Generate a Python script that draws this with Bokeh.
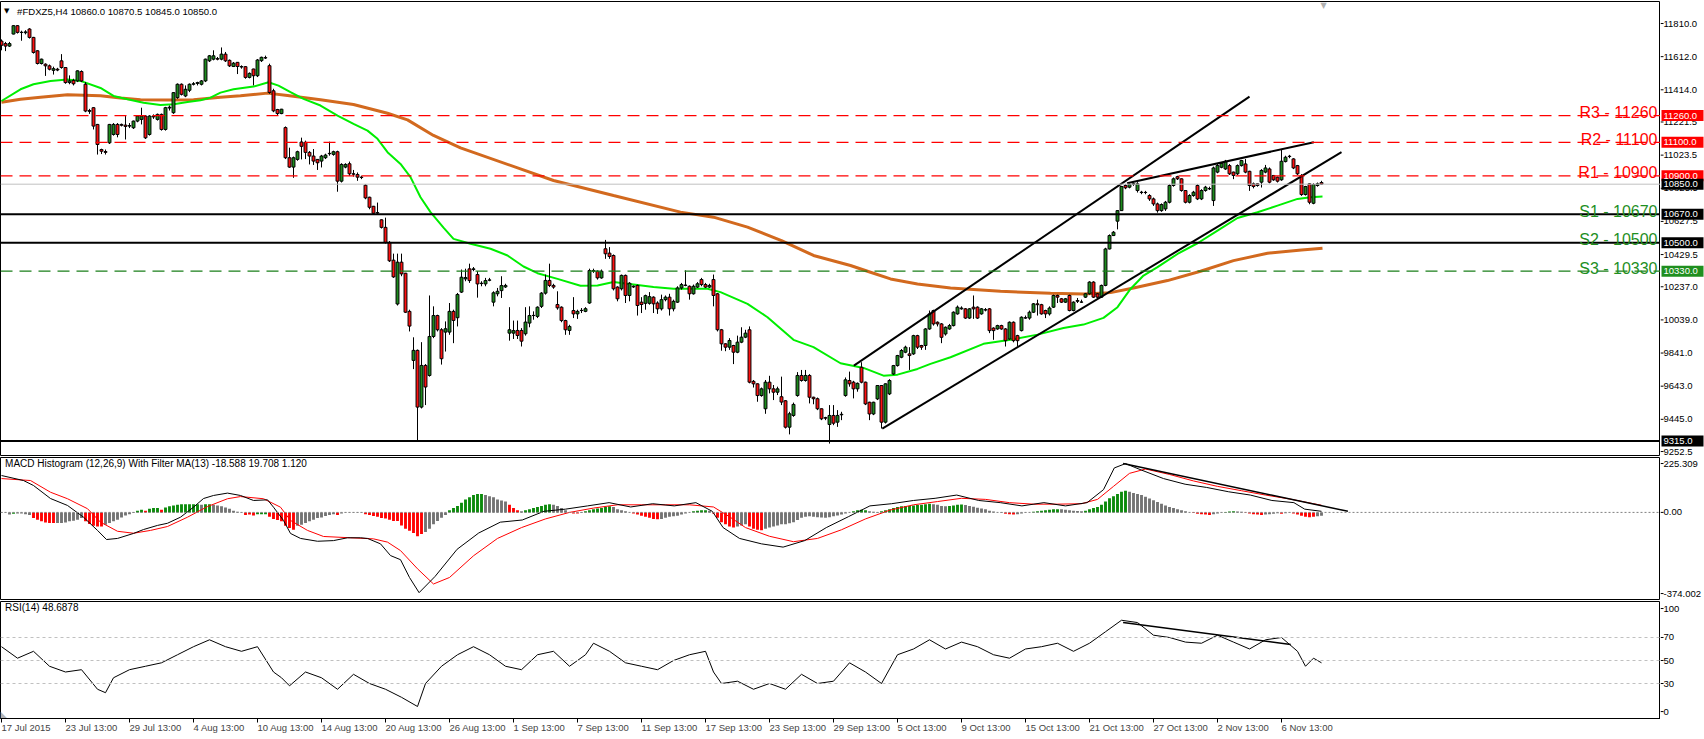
from bokeh.plotting import figure
from bokeh.layouts import column, row
from bokeh.models import (Range1d, FixedTicker, NumeralTickFormatter, Span, Label,
                          ColumnDataSource, LinearAxis)
from bokeh.core.properties import value
from bokeh.embed import file_html
from bokeh.resources import INLINE

# ---------------- data ----------------
bar_open = [11705,11690,11675,11747,11797,11757,11755,11777,11727,11647,11571,11567,11557,11530,11537,11587,11547,11457,11470,11467,
11523,11447,11290,11307,11207,11057,11045,11097,11147,11207,11207,11203,11197,11187,11227,11237,11257,11147,11252,11237,
11267,11177,11305,11277,11367,11447,11377,11411,11447,11452,11447,11467,11587,11597,11600,11597,11627,11590,11553,11578,
11553,11552,11488,11538,11498,11588,11606,11558,11408,11296,11272,11188,11008,10952,10998,11102,11100,11040,11018,10998,
10988,11008,11032,11028,11044,10868,10952,10972,10912,10908,10892,10844,10772,10718,10680,10637,10592,10502,10396,10134,
10384,10318,10090,9797,9857,9518,9767,9707,9940,10065,9980,9966,9966,10090,10052,10205,10284,10344,10340,10310,
10258,10254,10276,10145,10195,10214,10236,9960,9960,9976,9976,9956,10020,10065,10060,10120,10199,10275,10245,10131,
10115,10035,9976,10095,10075,10095,10090,10140,10334,10330,10290,10464,10438,10424,10235,10225,10305,10185,10240,10245,
10145,10138,10138,10175,10140,10105,10160,10175,10105,10145,10230,10247,10240,10195,10235,10280,10250,10235,10280,10195,
9980,9896,9876,9886,9846,9906,9936,9980,9672,9657,9587,9508,9667,9627,9607,9580,9556,9398,9468,9587,
9707,9677,9707,9577,9568,9508,9455,9414,9468,9428,9472,9587,9677,9667,9627,9756,9667,9547,9477,9567,
9647,9428,9597,9716,9766,9816,9846,9836,9836,9945,9886,9886,9985,10095,10025,10015,9955,9985,10005,10075,
10105,10105,10050,10115,10115,10075,10098,10105,9990,9985,10005,9985,9925,10025,9945,9975,10050,10050,10085,10135,
10130,10095,10075,10115,10185,10165,10145,10185,10095,10150,10145,10175,10195,10265,10195,10175,10245,10463,10543,10629,
10692,10842,10832,10850,10812,10802,10801,10782,10762,10732,10692,10702,10742,10842,10895,10882,10812,10742,10782,10842,
10762,10812,10822,10752,10922,10951,10941,10961,10922,10912,10961,10971,10927,10852,10852,10862,10922,10941,10902,10892,
10876,10985,11015,11001,10961,10902,10788,10852,10736,10842,10860]
bar_high = [11715,11700,11700,11800,11800,11767,11770,11782,11730,11650,11600,11572,11565,11552,11545,11627,11550,11500,11480,11530,
11530,11460,11300,11310,11210,11062,11057,11210,11215,11215,11212,11257,11215,11230,11262,11307,11262,11262,11267,11272,
11272,11312,11320,11400,11452,11452,11440,11452,11460,11462,11472,11600,11622,11650,11610,11667,11640,11595,11580,11580,
11560,11555,11518,11540,11598,11612,11618,11570,11420,11300,11300,11195,11068,11015,11050,11128,11110,11048,11060,11000,
11025,11032,11104,11050,11050,10975,10975,10985,10935,10920,10900,10850,10775,10720,10740,10640,10650,10510,10435,10435,
10435,10320,10100,9935,9862,9906,9775,10185,10120,10070,9990,10030,10140,10100,10200,10340,10345,10375,10355,10330,
10270,10290,10290,10210,10230,10300,10255,10115,10035,10035,9990,10115,10120,10090,10120,10205,10310,10375,10255,10210,
10120,10040,10010,10175,10100,10110,10115,10345,10345,10335,10340,10517,10474,10430,10240,10310,10310,10265,10245,10250,
10175,10190,10205,10180,10150,10190,10185,10195,10160,10240,10260,10335,10245,10250,10265,10290,10260,10255,10310,10200,
9985,9900,9930,9890,9945,9995,9980,10000,9680,9660,9635,9680,9705,9650,9640,9700,9560,9490,9545,9727,
9740,9740,9715,9580,9575,9510,9460,9530,9530,9500,9490,9695,9730,9675,9665,9786,9670,9550,9550,9650,
9650,9660,9685,9770,9830,9865,9885,9876,9950,9950,9890,9990,10095,10100,10030,10020,10000,10015,10090,10125,
10120,10110,10110,10185,10120,10110,10110,10110,9995,10010,10010,9990,10030,10030,9950,10060,10065,10095,10140,10160,
10135,10100,10120,10190,10190,10170,10170,10190,10150,10170,10160,10200,10270,10270,10200,10250,10470,10550,10570,10695,
10840,10850,10860,10860,10862,10810,10810,10790,10770,10740,10735,10750,10850,10890,10900,10885,10815,10790,10810,10850,
10820,10840,10835,10955,10970,10980,10995,10970,10925,10968,10995,11000,10930,10860,10855,10940,10965,10950,10905,10895,
11055,11020,11025,11005,10965,10910,10840,10855,10855,10860,10870]
bar_low = [11650,11645,11670,11745,11750,11707,11745,11720,11630,11565,11565,11497,11530,11505,11525,11540,11450,11447,11440,11460,
11460,11280,11270,11177,11027,11030,11027,11090,11140,11130,11195,11117,11185,11180,11220,11207,11120,11140,11240,11230,
11170,11170,11290,11270,11360,11380,11370,11400,11440,11440,11440,11460,11580,11590,11590,11590,11580,11550,11550,11508,
11540,11480,11482,11440,11490,11580,11598,11390,11280,11262,11268,11000,10948,10888,10990,10998,11000,10968,10965,10935,
10950,11000,11020,11020,10805,10860,10945,10900,10895,10870,10880,10760,10700,10670,10672,10585,10495,10385,10290,10125,
10300,10080,9970,9745,9318,9510,9530,9700,9930,9970,9772,9850,9950,9900,10000,10200,10270,10260,10330,10172,
10240,10240,10270,10120,10180,10170,10230,9915,9925,9925,9880,9945,9995,10040,10050,10110,10190,10235,10225,10100,
10025,9950,9950,10050,10045,10080,10085,10135,10320,10280,10285,10404,10404,10215,10150,10215,10140,10150,10230,10065,
10080,10100,10130,10080,10075,10095,10150,10065,10090,10140,10220,10240,10160,10190,10230,10240,10230,10230,10120,9970,
9855,9852,9860,9775,9840,9900,9930,9660,9635,9550,9580,9478,9600,9560,9590,9530,9390,9355,9460,9580,
9670,9670,9540,9535,9500,9440,9440,9300,9410,9400,9440,9580,9640,9570,9610,9660,9530,9440,9470,9560,
9390,9420,9590,9710,9760,9810,9840,9740,9830,9865,9860,9860,9980,10005,10000,9900,9945,9980,10000,10070,
10100,10045,10045,10045,10045,10070,10090,9960,9920,9980,9980,9880,9920,9905,9880,9970,10045,10040,10080,10065,
10070,10050,10065,10110,10140,10140,10140,10090,10090,10140,10140,10170,10190,10170,10170,10170,10240,10460,10540,10580,
10690,10820,10825,10840,10800,10790,10790,10750,10720,10680,10685,10690,10735,10835,10875,10805,10735,10735,10775,10755,
10755,10805,10815,10720,10915,10945,10935,10905,10880,10905,10955,10915,10810,10825,10835,10830,10915,10855,10870,10860,
10870,10980,11005,10940,10905,10780,10782,10730,10730,10835,10845]
bar_close = [11680,11675,11690,11797,11757,11757,11760,11727,11637,11571,11597,11557,11537,11540,11532,11547,11457,11467,11450,11527,
11467,11287,11285,11197,11087,11047,11040,11207,11207,11147,11202,11195,11200,11227,11257,11257,11127,11257,11257,11267,
11177,11307,11310,11397,11447,11387,11417,11447,11450,11457,11467,11597,11617,11617,11597,11627,11587,11557,11573,11553,
11550,11488,11512,11498,11592,11608,11604,11398,11288,11272,11298,11008,10952,11008,11044,11076,11040,11018,10988,10978,
11018,11024,11034,11044,10868,10968,10968,10912,10910,10892,10890,10768,10712,10676,10678,10592,10502,10392,10296,10384,
10314,10085,10002,9857,9518,9767,9638,9940,10065,9980,9807,9986,10090,10036,10191,10294,10292,10274,10344,10254,
10256,10274,10278,10201,10210,10244,10245,9980,9975,9946,9912,10026,10065,10066,10115,10199,10275,10245,10235,10111,
10035,9980,10000,10075,10090,10096,10106,10334,10330,10290,10330,10434,10418,10225,10165,10305,10185,10258,10236,10125,
10131,10184,10178,10135,10105,10160,10175,10105,10150,10230,10250,10245,10195,10240,10255,10250,10235,10245,10185,9980,
9896,9876,9916,9846,9906,9936,9960,9667,9657,9587,9627,9667,9627,9607,9627,9548,9398,9478,9534,9707,
9677,9707,9577,9568,9508,9448,9452,9468,9422,9468,9475,9681,9657,9627,9660,9667,9537,9477,9547,9647,
9428,9657,9677,9766,9826,9856,9876,9826,9945,9876,9876,9985,10075,10015,10015,9935,9995,10005,10085,10115,
10110,10050,10105,10105,10050,10105,10100,9975,9975,10005,9985,9915,10025,9915,9915,10055,10052,10085,10135,10130,
10075,10075,10110,10185,10175,10145,10165,10095,10145,10155,10146,10195,10265,10175,10175,10245,10463,10543,10563,10692,
10836,10828,10848,10852,10852,10800,10800,10762,10732,10692,10728,10742,10842,10882,10882,10812,10742,10782,10802,10762,
10812,10832,10824,10947,10962,10975,10987,10912,10902,10961,10991,10922,10842,10836,10842,10932,10947,10862,10876,10868,
10987,11011,11017,10947,10912,10788,10836,10742,10848,10852,10850]

# moving averages read at sample bars (bar index, price)
ma_fast_idx = [0,4.75,8,12.25,16.5,19.75,24.75,28,31.5,35.5,39.75,43,46.5,49.75,52.25,54.75,58,63,66.75,69.25,
  72.25,75.5,79.75,84,88,91.5,94,96.5,99.75,102.25,104.75,107.25,110.5,113,117.25,122.25,126.5,130.5,134,139,
  144.75,149,153,158,163,168,176.5,179.75,186.5,191.5,198,203,209.75,215.5,220.5,224,229,232.25,237.25,245.5,
  252.25,259,265.5,270.5,275.5,279,282.25,285.5,289,294,299,304,309,314,319,324,327.25,330.25]
ma_fast_val = [11347,11417,11447,11467,11475,11467,11425,11377,11357,11337,11323,11327,11341,11351,11367,11397,11417,11433,11459,11439,
  11400,11360,11320,11260,11210,11170,11121,11041,10971,10892,10772,10683,10590,10523,10494,10464,10424,10358,10318,10284,
  10243,10245,10265,10251,10235,10225,10225,10205,10135,10055,9920,9876,9780,9752,9706,9712,9746,9776,9816,9896,
  9920,9951,9991,10011,10051,10115,10224,10304,10354,10433,10497,10573,10648,10682,10722,10762,10772,10776]
ma_slow_idx = [0,4.75,9.75,16.5,24.75,29.75,34.75,41.5,48,54.75,59.75,66.5,71.5,79.75,88,96.5,101.5,108,114.75,138,153,169.75,178,186.5,195,203,
  212.25,217.25,222.25,229,237.25,249.75,262.25,270.5,277.25,283,291.5,299.75,308,316.5,325,330.25]
ma_slow_val = [11340,11357,11369,11385,11379,11365,11355,11353,11355,11369,11379,11394,11380,11354,11326,11274,11234,11141,11067,10872,10782,10683,10653,10593,10513,10424,
  10364,10324,10284,10254,10230,10210,10198,10194,10202,10230,10274,10330,10393,10437,10457,10467]

# support / resistance levels
res_levels = [11260, 11100, 10900]
res_names = ["R3 - 11260", "R2 - 11100", "R1 - 10900"]
sup_levels = [10670, 10500]
sup_names = ["S1 - 10670", "S2 - 10500"]
s3_level = 10330
s3_name = "S3 - 10330"
low_level = 9315
last_price = 10850
box_levels = [11260, 11100, 10900, 10850, 10670, 10500, 10330, 9315]
box_colors = ["#ff0000", "#ff0000", "#ff0000", "black", "black", "black", "#1f8f1f", "black"]

# trend lines drawn on the chart (bar index, price)
chan_up_x = [213.1, 312.0]
chan_up_y = [9766, 11373]
chan_lo_x = [220.2, 335.0]
chan_lo_y = [9390, 11041]
wedge_x = [281.4, 328.1]
wedge_y = [10856, 11101]

price_ticks = [11810.0, 11612.0, 11414.0, 11221.5, 11023.5, 10825.5, 10627.5, 10429.5, 10237.0,
               10039.0, 9841.0, 9643.0, 9445.0, 9252.5]

# MACD histogram per bar, colour code g=green r=red k=grey
hist_val = [-3,-2,-10,-6,-5,-5,-8,-12,-26,-34,-41,-46,-49,-49,-49,-49,-46,-41,-38,-34,
-26,-41,-54,-61,-65,-65,-57,-49,-41,-34,-23,-14,-8,-3,8,12,8,17,20,20,
12,23,28,32,35,38,38,38,38,38,35,38,38,35,32,28,23,17,8,3,
-2,-12,-10,-14,-8,-8,-8,-20,-30,-35,-41,-61,-72,-80,-61,-57,-49,-41,-34,-26,
-23,-17,-12,-8,-12,-5,-2,-2,-2,-2,-2,-8,-12,-17,-20,-26,-28,-34,-40,-40,
-60,-75,-85,-95,-110,-100,-90,-75,-55,-40,-25,-12,10,20,30,45,60,70,80,85,
85,80,75,70,60,55,50,35,20,10,5,10,15,20,25,30,35,38,35,30,
20,10,0,-5,-5,-3,5,10,15,18,20,25,28,25,15,10,5,0,-5,-10,
-15,-20,-25,-30,-32,-30,-25,-20,-18,-15,-10,-5,0,5,8,10,10,8,-5,-25,
-45,-55,-65,-70,-65,-60,-55,-65,-75,-80,-82,-75,-70,-65,-60,-55,-55,-50,-45,-35,
-25,-20,-18,-20,-22,-24,-25,-22,-18,-14,-10,-5,0,5,10,12,10,5,3,2,
5,10,15,20,25,28,30,30,32,34,35,38,40,38,35,30,28,30,32,35,
36,34,30,26,22,18,14,8,4,0,-3,-6,-8,-10,-8,-5,-2,0,3,5,
8,10,12,14,15,14,12,10,8,6,5,8,15,20,25,35,50,65,75,85,
95,100,95,90,85,80,72,64,56,48,40,32,25,20,15,10,5,0,-3,-6,
-8,-10,-12,-8,-5,-2,2,4,5,4,3,-2,-5,-8,-10,-12,-10,-8,-6,-4,
-6,-4,-2,-5,-10,-15,-20,-22,-20,-18,-16]
hist_col = ("kkkgkkkkrr" "rrrrkkkkkk" "krrrrrkkkk" "kkkkggrggg" "rggggggggg" "kggkkkkkkk"
            "krrrgggrrr" "rrrrkkkkkk" "kkkkrkkkkk" "krrrrrrrrr" "rrrrrrkkkk" "kkgggggggg"
            "gkkkkkkrrr" "kgggggggkk" "kkkrrkgggg" "gggkkkkkrr" "rrrrrkkkkk" "kkkggggkrr"
            "rrrrkkkrrr" "rkkkkkkkkk" "kkkkkkkkkk" "kkgggggkkk" "gggggggggg" "gggkkkkggg"
            "gkkkkkkkkk" "krrrkkkkgg" "gggggkkkkk" "kggggggggg" "ggkkkkkkkk" "kkkkkkkkrr"
            "rrrkkkgggk" "krrrrrkkkk" "rkkrrrrrrk" "k")

macd_idx = [0,5.5,8,12.25,16.5,20.5,24,26.25,29,33,35.5,39,41.5,44.75,48,50.5,53,56.5,59.75,63,66.5,68,70.5,72.25,74.75,79,83,86.5,89.75,91.5,94.75,97.25,99.75,
  102,104.4,108.4,113.9,119.3,124.7,130.2,135.6,141,146.5,151.9,157.3,162.8,168.2,173.6,177.7,180.4,184.5,190,195.4,200.8,206.2,211.7,217.1,222.5,228,233.4,238.8,
  244.3,249.7,255.1,260.6,266,271.4,275.5,278.2,281,285,290.5,295.9,301.3,306.8,312.2,317.6,323.1,325.8,330]
macd_val = [170,147,124,64,32,-22,-83,-125,-120,-97,-79,-60,-50,-22,24,64,78,89,78,55,58,24,-37,-97,-120,-133,-130,-117,-117,-120,-145,-199,-218,
  -300,-370,-295,-170,-95,-45,-35,5,15,30,45,25,40,30,45,5,-70,-120,-145,-160,-130,-70,-20,30,40,55,65,80,
  55,45,30,45,30,45,105,205,225,195,156,130,115,95,80,55,45,15,5]
signal_idx = [0,7.25,12.25,16.5,21.5,24.75,29,33,37.25,41.5,46.5,51.5,56.5,59.75,65.5,69.75,72.25,76.5,80.5,87.25,93,96.5,99.75,104,108,112,118,124,130,136,142,148,
  154,160,166,172,178,182,186,192,198,204,210,216,222,228,234,240,246,252,258,264,270,274,278,282,286,292,298,304,310,316,322,328,330]
signal_val = [156,147,93,63,17,-45,-87,-96,-83,-65,-22,27,63,73,63,24,-37,-83,-111,-117,-122,-137,-176,-260,-330,-300,-200,-120,-70,-30,0,20,
  35,35,35,35,25,-20,-70,-110,-135,-120,-80,-30,10,35,50,65,60,45,38,38,40,60,120,180,200,175,145,120,100,80,62,40,33]
macd_tl_x = [280.4, 336.6]
macd_tl_y = [225, 5]
macd_ticks = [225.309, 0, -374.002]
macd_tick_text = ["225.309", "0.00", "-374.002"]

rsi_idx = [0,4,8,12,16,20,24,26,28,32,36,40,44,48,52,56,60,64,68,70,72,76,80,84,88,92,96,100,104,106,110,114,118,122,126,130,134,138,142,146,148,152,156,
  160,164,168,172,176,178,180,184,188,192,196,200,204,208,212,216,220,224,228,232,236,240,244,248,252,256,260,264,268,272,276,280,284,288,292,296,300,
  304,308,312,316,320,324,326,328,330]
rsi_val = [62,52,58,45,40,42,25,22,35,42,45,48,55,62,68,62,58,62,40,35,28,40,35,25,38,30,25,18,10,30,45,55,62,55,45,42,55,58,45,55,65,58,48,
  45,42,50,55,58,40,30,32,25,30,25,38,30,32,48,40,30,55,60,68,60,66,62,55,52,60,62,65,58,65,75,85,83,72,70,66,65,
  72,66,60,68,70,58,45,52,48]
rsi_tl_x = [280.4, 322.3]
rsi_tl_y = [83, 64]
rsi_ticks = [95.2, 70, 50, 30, 5.6]
rsi_tick_text = ["100", "70", "50", "30", "0"]

date_ticks = list(range(0, 321, 16))
date_labels = ["17 Jul 2015", "23 Jul 13:00", "29 Jul 13:00", "4 Aug 13:00", "10 Aug 13:00", "14 Aug 13:00",
               "20 Aug 13:00", "26 Aug 13:00", "1 Sep 13:00", "7 Sep 13:00", "11 Sep 13:00", "17 Sep 13:00",
               "23 Sep 13:00", "29 Sep 13:00", "5 Oct 13:00", "9 Oct 13:00", "15 Oct 13:00", "21 Oct 13:00",
               "27 Oct 13:00", "2 Nov 13:00", "6 Nov 13:00"]

# ---------------- styling ----------------
FONT = "Liberation Sans"
GREEN_BODY = "#1c8c1c"
RED_BODY = "#ff1010"
FRAME_W = 1660
STRIP_W = 44
X_START = -0.25
X_END = X_START + FRAME_W / 4.0
x_range = Range1d(X_START, X_END)


def main_fig(frame_h, yr, top, bottom, xaxis=False):
    p = figure(frame_width=FRAME_W, frame_height=frame_h, x_range=x_range, y_range=yr,
               y_axis_location=None, x_axis_location="below" if xaxis else None,
               toolbar_location=None, output_backend="svg",
               min_border_left=0, min_border_right=0, min_border_top=top,
               min_border_bottom=bottom)
    p.grid.visible = False
    p.outline_line_color = "black"
    p.outline_line_width = 1
    p.background_fill_color = "white"
    p.border_fill_color = "white"
    return p


def strip_fig(frame_h, yr, ticks, top, bottom, overrides=None, fmt=None):
    s = figure(frame_width=STRIP_W, frame_height=frame_h, x_range=Range1d(0, STRIP_W),
               y_range=yr, y_axis_location=None, x_axis_location=None,
               toolbar_location=None, output_backend="svg",
               min_border_left=0, min_border_right=0, min_border_top=top,
               min_border_bottom=bottom)
    s.grid.visible = False
    s.outline_line_color = None
    s.background_fill_color = "white"
    s.border_fill_color = "white"
    # small tick marks next to the panel edge
    s.segment(x0=0, x1=3, y0=ticks, y1=ticks, line_color="black", line_width=1)
    ra = LinearAxis(ticker=FixedTicker(ticks=ticks), axis_line_color=None,
                    major_tick_line_color=None, minor_tick_line_color=None,
                    major_tick_in=0, major_tick_out=0, major_label_standoff=-41,
                    major_label_text_font=FONT, major_label_text_font_size="9.5px",
                    major_label_text_color="black")
    if fmt is not None:
        ra.formatter = fmt
    if overrides is not None:
        ra.major_label_overrides = overrides
    s.add_layout(ra, "right")
    return s


# ---------------- main price panel ----------------
yr1 = Range1d(9228.8, 11941.5)
p1 = main_fig(454, yr1, 1, 1)
s1 = strip_fig(454, yr1, price_ticks, 1, 1, fmt=NumeralTickFormatter(format="0.0"))
PX = (11941.5 - 9228.8) / 454.0

n = len(bar_close)
idx = list(range(n))
body_top = [max(o, c) for o, c in zip(bar_open, bar_close)]
body_bot = [min(o, c) for o, c in zip(bar_open, bar_close)]
body_col = [GREEN_BODY if c > o else RED_BODY for o, c in zip(bar_open, bar_close)]
src = ColumnDataSource(dict(x=idx, o=bar_open, h=bar_high, l=bar_low, c=bar_close,
                            top=body_top, bot=body_bot, col=body_col))

for lv in res_levels:
    p1.add_layout(Span(location=lv, dimension="width", line_color="#ff0000",
                       line_width=1.3, line_dash="12 7"))
for lv in sup_levels:
    p1.add_layout(Span(location=lv, dimension="width", line_color="black", line_width=2))
p1.add_layout(Span(location=s3_level, dimension="width", line_color="#1a7f1a",
                   line_width=1.3, line_dash="12 7"))
p1.add_layout(Span(location=low_level, dimension="width", line_color="black", line_width=2))
p1.add_layout(Span(location=last_price, dimension="width", line_color="#c0c0c0", line_width=1))

p1.line(ma_slow_idx, ma_slow_val, line_color="#d2691e", line_width=3)
p1.line(ma_fast_idx, ma_fast_val, line_color="#00ee00", line_width=2)

p1.segment(x0="x", y0="l", x1="x", y1="h", source=src, line_color="black", line_width=1)
p1.vbar(x="x", top="top", bottom="bot", width=0.72, source=src, fill_color="col",
        line_color="black", line_width=1)

for tx, ty in ((chan_up_x, chan_up_y), (chan_lo_x, chan_lo_y), (wedge_x, wedge_y)):
    p1.line(tx, ty, line_color="black", line_width=2)

for lv, nm in zip(res_levels, res_names):
    p1.add_layout(Label(x=X_END - 0.75, y=lv + 3 * PX, text=nm, text_align="right",
                        text_baseline="alphabetic", text_color="#ff0000",
                        text_font=FONT, text_font_size="16px"))
for lv, nm in zip(sup_levels + [s3_level], sup_names + [s3_name]):
    p1.add_layout(Label(x=X_END - 0.75, y=lv + 3 * PX, text=nm, text_align="right",
                        text_baseline="alphabetic", text_color="#1f8f1f",
                        text_font=FONT, text_font_size="16px"))

p1.add_layout(Label(x=0.6, y=11941.5 - 9.5 * PX, text="\u25BC", text_align="left",
                    text_baseline="middle", text_color="black", text_font="DejaVu Sans",
                    text_font_size="7px"))
p1.add_layout(Label(x=3.9, y=11941.5 - 9.5 * PX,
                    text="#FDXZ5,H4  10860.0 10870.5 10845.0 10850.0", text_align="left",
                    text_baseline="middle", text_color="black", text_font=FONT,
                    text_font_size="9.6px"))
p1.add_layout(Label(x=330.5, y=11941.5 - 3.5 * PX, text="\u25BC", text_align="center",
                    text_baseline="middle", text_color="#b0b0b0", text_font="DejaVu Sans",
                    text_font_size="8px"))

# price boxes on the axis strip
bsrc = ColumnDataSource(dict(y=box_levels, b=[v - 5.5 * PX for v in box_levels],
                             t=[v + 5.5 * PX for v in box_levels], col=box_colors,
                             txt=["%.1f" % v for v in box_levels]))
s1.quad(left=1, right=STRIP_W - 1, bottom="b", top="t", source=bsrc, fill_color="col",
        line_color=None, level="overlay")
s1.text(x=3, y="y", text="txt", source=bsrc, text_color="white", text_align="left",
        text_baseline="middle", text_font=value(FONT), text_font_size=value("9.5px"),
        level="overlay")

# ---------------- MACD panel ----------------
yr2 = Range1d(-401.5, 253.1)
p2 = main_fig(142, yr2, 1, 1)
s2 = strip_fig(142, yr2, macd_ticks, 1, 1,
               overrides={t: s for t, s in zip(macd_ticks, macd_tick_text)})
p2.add_layout(Span(location=0, dimension="width", line_color="#808080", line_width=1,
                   line_dash="2 2"))
cmap = {"g": "#0a8a0a", "r": "#ff0000", "k": "#737373"}
hsrc = ColumnDataSource(dict(x=idx, top=hist_val, col=[cmap[c] for c in hist_col[:n]]))
p2.vbar(x="x", top="top", bottom=0, width=0.72, source=hsrc, fill_color="col", line_color=None)
p2.line(signal_idx, signal_val, line_color="#ff0000", line_width=1)
p2.line(macd_idx, macd_val, line_color="black", line_width=1)
p2.line(macd_tl_x, macd_tl_y, line_color="black", line_width=1.5)
p2.add_layout(Label(x=0.9, y=(511.9 - 463) * 4.61,
                    text="MACD Histogram (12,26,9) With Filter MA(13) -18.588 19.708 1.120",
                    text_align="left", text_baseline="middle", text_color="black",
                    text_font=FONT, text_font_size="10px"))

# ---------------- RSI panel ----------------
yr3 = Range1d(-0.43, 101.3)
p3 = main_fig(117, yr3, 1, 21, xaxis=True)
s3 = strip_fig(117, yr3, rsi_ticks, 1, 21,
               overrides={t: s for t, s in zip(rsi_ticks, rsi_tick_text)})
for lv in (70, 50, 30):
    p3.add_layout(Span(location=lv, dimension="width", line_color="#c0c0c0", line_width=1,
                       line_dash="3 3"))
p3.line(rsi_idx, rsi_val, line_color="black", line_width=1)
p3.line(rsi_tl_x, rsi_tl_y, line_color="black", line_width=1.5)
p3.add_layout(Label(x=0.9, y=96, text="RSI(14) 48.6878", text_align="left",
                    text_baseline="middle", text_color="black", text_font=FONT,
                    text_font_size="10px"))
p3.add_layout(Label(x=X_START, y=-0.43, text="\u25E3", text_align="left",
                    text_baseline="bottom", text_color="#b4b4b4", text_font="DejaVu Sans",
                    text_font_size="8px"))
xa = p3.xaxis[0]
xa.ticker = FixedTicker(ticks=date_ticks)
xa.major_label_overrides = {t: s for t, s in zip(date_ticks, date_labels)}
xa.major_label_orientation = -0.0001
xa.major_label_text_font = FONT
xa.major_label_text_font_size = "9.5px"
xa.major_tick_out = 4
xa.major_tick_in = 0
xa.minor_tick_line_color = None
xa.axis_line_color = "black"
xa.major_label_standoff = 5

layout = column(row(p1, s1, spacing=0), row(p2, s2, spacing=0), row(p3, s3, spacing=0),
                spacing=0)
open("out.html", "w").write(file_html(layout, INLINE))
